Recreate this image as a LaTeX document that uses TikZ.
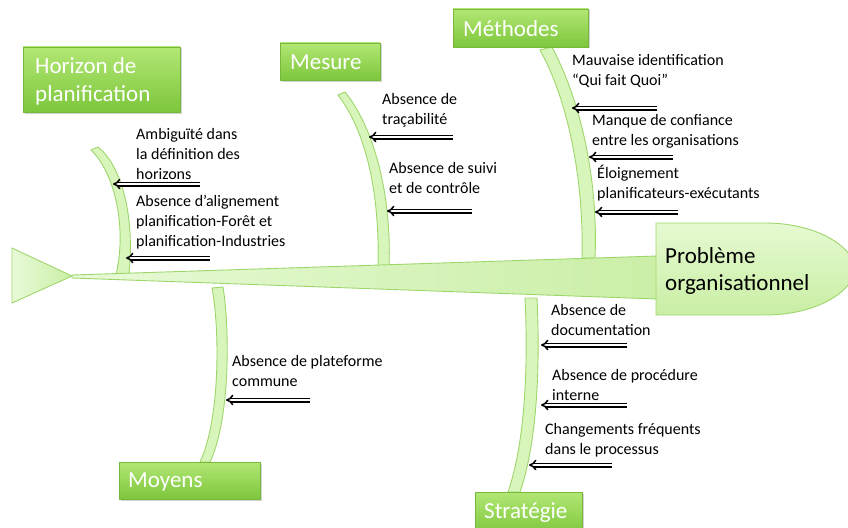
\documentclass[tikz,border=0pt]{standalone}
\usepackage{fontspec}
\setmainfont{Carlito}
\usetikzlibrary{arrows.meta,shadows}
\definecolor{boxtop}{HTML}{B2E774}
\definecolor{boxbot}{HTML}{7DC63C}
\definecolor{boxline}{HTML}{78B83C}
\definecolor{bonefill}{HTML}{D8F6BC}
\definecolor{boneline}{HTML}{9ED66C}
\definecolor{headtop}{HTML}{E6FAD2}
\definecolor{headbot}{HTML}{C9EEA4}
\tikzset{
  catbox/.style={draw=boxline, line width=0.6pt, top color=boxtop, bottom color=boxbot,
    drop shadow={opacity=0.35, shadow xshift=1.5pt, shadow yshift=-1.5pt}},
  cattext/.style={text=white, font=\fontsize{23}{28}\selectfont, anchor=west, align=left, inner sep=0pt},
  bone/.style={draw=boneline, line width=0.9pt, fill=bonefill},
  spinestyle/.style={draw=boneline, line width=0.9pt, left color=bonefill!60!white, right color=headbot!90!bonefill},
  headstyle/.style={draw=boneline, line width=0.9pt, top color=headtop, bottom color=headbot},
  lbl/.style={font=\fontsize{16}{20}\selectfont, anchor=west, align=left, inner sep=0pt, text=black},
  cause/.style={double=white, draw=black, line width=1.5pt, double distance=2pt, -{Implies}},
}
\begin{document}
\begin{tikzpicture}[x=1pt,y=-1pt]
\useasboundingbox (0,0) rectangle (848,527);

% bones
\path[bone] (91,150) .. controls (112,170) and (124,215) .. (119,258) -- (116,276) -- (129,273) .. controls (135,215) and (121,165) .. (98,147) -- cycle;
\path[bone] (338,95) .. controls (365,130) and (380,190) .. (378,268) -- (389,268) .. controls (392,190) and (372,125) .. (345,92) -- cycle;
\path[bone] (540,50) .. controls (568,100) and (584,180) .. (582,258) -- (595,258) .. controls (598,190) and (585,110) .. (552,47) -- cycle;
\path[bone] (212,288) .. controls (220,330) and (220,420) .. (200,462) -- (210,462) .. controls (230,420) and (230,330) .. (223,287) -- cycle;
\path[bone] (525,298) .. controls (528,360) and (526,440) .. (508,492) -- (520,492) .. controls (538,440) and (540,360) .. (537,298) -- cycle;

% spine, tail, head
\path[spinestyle] (72,275) -- (657,256) -- (657,299) -- (72,278) -- cycle;
\path[spinestyle] (12,248) -- (72,276) -- (12,303) -- cycle;
\path[headstyle] (656,223) -- (765,223) .. controls (815,223) and (852,245) .. (856,269) .. controls (852,293) and (815,315) .. (765,315) -- (656,315) -- cycle;
\node[text=black, font=\fontsize{23}{27}\selectfont, anchor=west, align=left, inner sep=0pt] (head) at (665,271) {Problème\\organisationnel};

% category boxes
\path[catbox] (23,47) rectangle (180,112);
\node[cattext] (horizon) at (35,81) {Horizon de\\planification};
\path[catbox] (280,43) rectangle (380,80);
\node[cattext] (mesure) at (290,62) {Mesure};
\path[catbox] (453,9) rectangle (588,47);
\node[cattext] (methodes) at (463,29) {Méthodes};
\path[catbox] (119,462) rectangle (260,499);
\node[cattext] (moyens) at (128,482) {Moyens};
\path[catbox] (475,492) rectangle (582,535);
\node[cattext] (strategie) at (484,513) {Stratégie};

% labels
\node[lbl] (l1) at (136,154) {Ambiguïté dans\\la définition des\\horizons};
\node[lbl] (l2) at (136,222) {Absence d’alignement\\planification-Forêt et\\planification-Industries};
\node[lbl] (l3) at (382,110) {Absence de\\traçabilité};
\node[lbl] (l4) at (389,178) {Absence de suivi\\et de contrôle};
\node[lbl] (l5) at (572,71) {Mauvaise identification\\“Qui fait Quoi”};
\node[lbl] (l6) at (592,131) {Manque de confiance\\entre les organisations};
\node[lbl] (l7) at (597,183) {Éloignement\\planificateurs-exécutants};
\node[lbl] (l8) at (232,371) {Absence de plateforme\\commune};
\node[lbl] (l9) at (551,320) {Absence de\\documentation};
\node[lbl] (l10) at (552,385) {Absence de procédure\\interne};
\node[lbl] (l11) at (545,440) {Changements fréquents\\dans le processus};

% arrows
\coordinate (a1s) at (200,184); \coordinate (a1e) at (113,184);
\coordinate (a2s) at (210,258); \coordinate (a2e) at (126,258);
\coordinate (a3s) at (453,137); \coordinate (a3e) at (369,137);
\coordinate (a4s) at (472,211); \coordinate (a4e) at (387,211);
\coordinate (a5s) at (657,108); \coordinate (a5e) at (572,108);
\coordinate (a6s) at (673,157); \coordinate (a6e) at (589,157);
\coordinate (a7s) at (678,212); \coordinate (a7e) at (595,212);
\coordinate (a8s) at (310,400); \coordinate (a8e) at (226,400);
\coordinate (a9s) at (627,345); \coordinate (a9e) at (541,345);
\coordinate (a10s) at (627,405); \coordinate (a10e) at (541,405);
\coordinate (a11s) at (612,465); \coordinate (a11e) at (529,465);
\foreach \i in {1,...,11} { \draw[cause] (a\i s) -- (a\i e); }
\end{tikzpicture}
\end{document}
